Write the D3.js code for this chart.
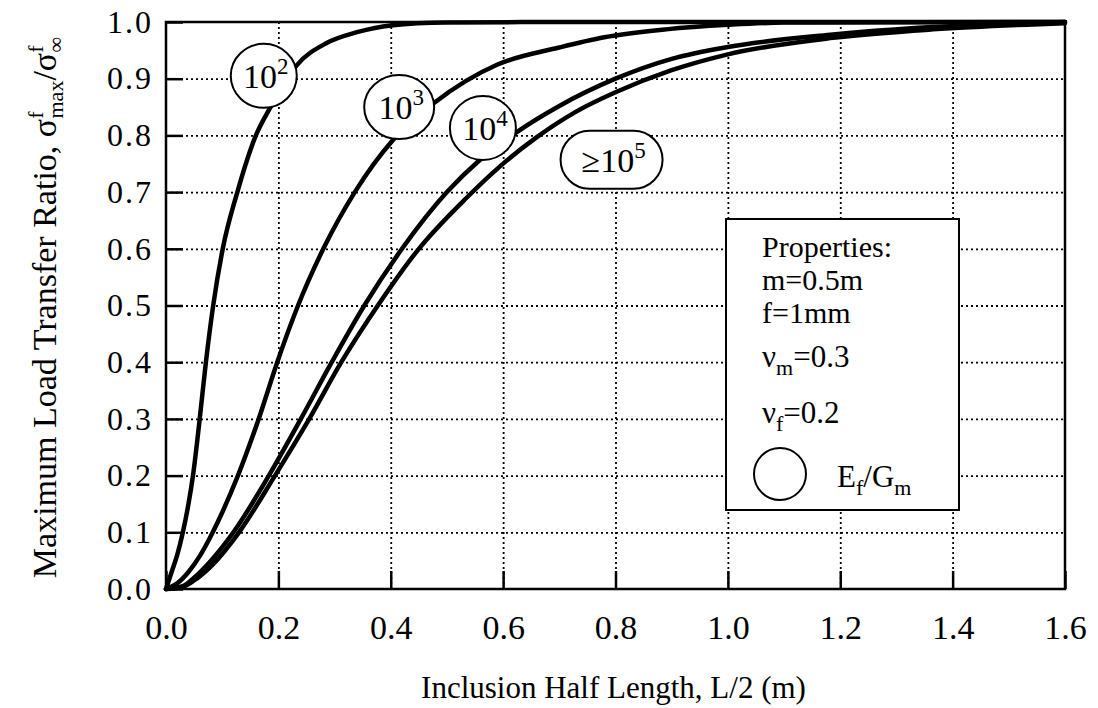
<!DOCTYPE html>
<html>
<head>
<meta charset="utf-8">
<script src="https://cdn.jsdelivr.net/npm/d3@7"></script>
<style>
  html, body { margin: 0; padding: 0; background: #fff; }
  svg { display: block; }
  text { font-family: "Liberation Serif", "Times New Roman", serif; fill: #000; }
</style>
</head>
<body>
<svg id="chart" width="1098" height="708"></svg>
<script>
// ---- data ----
const xTicks = [0.0, 0.2, 0.4, 0.6, 0.8, 1.0, 1.2, 1.4, 1.6];
const yTicks = [0.0, 0.1, 0.2, 0.3, 0.4, 0.5, 0.6, 0.7, 0.8, 0.9, 1.0];

const seriesNames = ["10^2", "10^3", "10^4", ">=10^5"];

const curve1e2 = [
  [0, 0], [0.01, 0.03], [0.02, 0.06], [0.03, 0.10], [0.04, 0.15], [0.048, 0.20],
  [0.06, 0.30], [0.071, 0.40], [0.084, 0.50], [0.101, 0.60], [0.127, 0.70],
  [0.16, 0.80], [0.185, 0.848], [0.233, 0.924], [0.286, 0.963], [0.34, 0.982],
  [0.40, 0.994], [0.50, 0.999], [0.70, 1.0], [1.6, 1.0]
];
const curve1e3 = [
  [0, 0], [0.02, 0.01], [0.04, 0.03], [0.06, 0.058], [0.078, 0.09], [0.10, 0.135],
  [0.128, 0.20], [0.165, 0.30], [0.198, 0.40], [0.235, 0.50],
  [0.28, 0.60], [0.336, 0.70], [0.404, 0.792], [0.477, 0.857], [0.59, 0.925],
  [0.70, 0.955], [0.78, 0.973], [0.89, 0.987], [1.0, 0.995], [1.1, 0.999], [1.6, 1.0]
];
const curve1e4 = [
  [0, 0], [0.03, 0.005], [0.05, 0.02], [0.08, 0.05], [0.12, 0.10], [0.183, 0.20],
  [0.24, 0.30], [0.295, 0.40], [0.353, 0.50], [0.42, 0.60], [0.50, 0.70],
  [0.559, 0.757], [0.623, 0.805], [0.70, 0.852], [0.80, 0.90], [0.90, 0.935],
  [1.0, 0.956], [1.187, 0.978], [1.365, 0.991], [1.6, 1.0]
];
const curve1e5 = [
  [0, 0], [0.03, 0.004], [0.05, 0.015], [0.08, 0.04], [0.13, 0.10], [0.194, 0.20],
  [0.255, 0.30], [0.312, 0.40], [0.377, 0.50], [0.45, 0.60], [0.535, 0.69],
  [0.594, 0.745], [0.66, 0.797], [0.73, 0.842], [0.80, 0.876], [0.90, 0.915],
  [1.0, 0.943], [1.187, 0.972], [1.365, 0.987], [1.6, 0.998]
];
const allCurves = [curve1e2, curve1e3, curve1e4, curve1e5];

// curve label annotations (data coordinates)
const labelX = [0.174, 0.415, 0.564, 0.793];
const labelY = [0.905, 0.85, 0.813, 0.757];

const legendLines = ["Properties:", "m=0.5m", "f=1mm"];

// ---- layout ----
const svg = d3.select("#chart");
const L = 166, R = 1065, T = 22, B = 589;
const x = d3.scaleLinear().domain([0, 1.6]).range([L, R]);
const y = d3.scaleLinear().domain([0, 1]).range([B, T]);

// gridlines
svg.append("g")
  .attr("transform", `translate(0,${B})`)
  .call(d3.axisBottom(x).tickValues(xTicks.slice(1, -1)).tickSize(-(B - T)).tickFormat(""))
  .call(g => g.select(".domain").remove())
  .call(g => g.selectAll("line").attr("stroke", "#000").attr("stroke-width", 1.8).attr("stroke-dasharray", "2,3"));
svg.append("g")
  .attr("transform", `translate(${L},0)`)
  .call(d3.axisLeft(y).tickValues(yTicks.slice(1, -1)).tickSize(-(R - L)).tickFormat(""))
  .call(g => g.select(".domain").remove())
  .call(g => g.selectAll("line").attr("stroke", "#000").attr("stroke-width", 1.8).attr("stroke-dasharray", "2,3"));

// inner solid ticks
svg.append("g")
  .attr("transform", `translate(0,${B})`)
  .call(d3.axisTop(x).tickValues(xTicks).tickSize(18).tickFormat(""))
  .call(g => g.select(".domain").remove())
  .call(g => g.selectAll("line").attr("stroke", "#000").attr("stroke-width", 2.5));
svg.append("g")
  .attr("transform", `translate(${L},0)`)
  .call(d3.axisRight(y).tickValues(yTicks).tickSize(17).tickFormat(""))
  .call(g => g.select(".domain").remove())
  .call(g => g.selectAll("line").attr("stroke", "#000").attr("stroke-width", 2.5));

// tick labels
svg.append("g")
  .attr("transform", `translate(0,${B})`)
  .call(d3.axisBottom(x).tickValues(xTicks).tickSize(0).tickPadding(26).tickFormat(d3.format(".1f")))
  .call(g => g.select(".domain").remove())
  .call(g => g.selectAll("text").attr("font-size", 34));
svg.append("g")
  .attr("transform", `translate(${L},0)`)
  .call(d3.axisLeft(y).tickValues(yTicks).tickSize(0).tickPadding(13).tickFormat(d3.format(".1f")))
  .call(g => g.select(".domain").remove())
  .call(g => g.selectAll("text").attr("font-size", 32).attr("letter-spacing", 2));

// curves
const line = d3.line().x(d => x(d[0])).y(d => y(d[1])).curve(d3.curveMonotoneX);
svg.append("g").selectAll("path").data(allCurves).join("path")
  .attr("d", line)
  .attr("fill", "none").attr("stroke", "#000").attr("stroke-width", 4.5)
  .attr("stroke-linejoin", "round").attr("stroke-linecap", "round");

// frame
svg.append("rect")
  .attr("x", L).attr("y", T).attr("width", R - L).attr("height", B - T)
  .attr("fill", "none").attr("stroke", "#000").attr("stroke-width", 2.5);

// curve labels
const exps = ["2", "3", "4", "5"];
const lab = svg.append("g");
exps.forEach((e, i) => {
  const cx = x(labelX[i]), cy = y(labelY[i]);
  if (i < 3) {
    lab.append("ellipse").attr("cx", cx).attr("cy", cy)
      .attr("rx", i === 1 ? 35 : 33).attr("ry", 32)
      .attr("fill", "#fff").attr("stroke", "#000").attr("stroke-width", 2);
  } else {
    lab.append("rect").attr("x", cx - 51).attr("y", cy - 29).attr("width", 102).attr("height", 58)
      .attr("rx", 29).attr("ry", 29)
      .attr("fill", "#fff").attr("stroke", "#000").attr("stroke-width", 2);
  }
  const t = lab.append("text").attr("x", cx + 2).attr("y", cy + 12)
    .attr("text-anchor", "middle").attr("font-size", 34);
  t.append("tspan").text(i === 3 ? "\u226510" : "10");
  t.append("tspan").attr("dy", -14).attr("font-size", 23).text(e);
});

// legend box
const lg = svg.append("g");
lg.append("rect").attr("x", 726).attr("y", 219).attr("width", 233).attr("height", 291)
  .attr("fill", "#fff").attr("stroke", "#000").attr("stroke-width", 2);
const legBase = [257, 290, 323];
legendLines.forEach((s, i) => {
  lg.append("text").attr("x", 762).attr("y", legBase[i]).attr("font-size", 30).text(s);
});
const nu1 = lg.append("text").attr("x", 762).attr("y", 367).attr("font-size", 31);
nu1.append("tspan").text("\u03bd");
nu1.append("tspan").attr("dy", 8).attr("font-size", 22).text("m");
nu1.append("tspan").attr("dy", -8).text("=0.3");
const nu2 = lg.append("text").attr("x", 762).attr("y", 423).attr("font-size", 31);
nu2.append("tspan").text("\u03bd");
nu2.append("tspan").attr("dy", 8).attr("font-size", 22).text("f");
nu2.append("tspan").attr("dy", -8).text("=0.2");
lg.append("circle").attr("cx", 780).attr("cy", 474).attr("r", 26)
  .attr("fill", "#fff").attr("stroke", "#000").attr("stroke-width", 2);
const eg = lg.append("text").attr("x", 837).attr("y", 487).attr("font-size", 31);
eg.append("tspan").text("E");
eg.append("tspan").attr("dy", 8).attr("font-size", 22).text("f");
eg.append("tspan").attr("dy", -8).text("/G");
eg.append("tspan").attr("dy", 8).attr("font-size", 22).text("m");

// axis titles
svg.append("text").attr("x", (L + R) / 2 - 2).attr("y", 698)
  .attr("text-anchor", "middle").attr("font-size", 31)
  .text("Inclusion Half Length, L/2 (m)");

const yt = svg.append("text")
  .attr("transform", `translate(56,${(T + B) / 2 + 2}) rotate(-90)`)
  .attr("text-anchor", "middle").attr("font-size", 34);
yt.append("tspan").text("Maximum Load Transfer Ratio, \u03c3");
yt.append("tspan").attr("dy", -13).attr("font-size", 22).text("f");
yt.append("tspan").attr("dy", 20).attr("dx", -7).attr("font-size", 22).text("max");
yt.append("tspan").attr("dy", -7).text("/\u03c3");
yt.append("tspan").attr("dy", -13).attr("font-size", 22).text("f");
yt.append("tspan").attr("dy", 20).attr("dx", -7).attr("font-size", 22).text("\u221e");
</script>
</body>
</html>
